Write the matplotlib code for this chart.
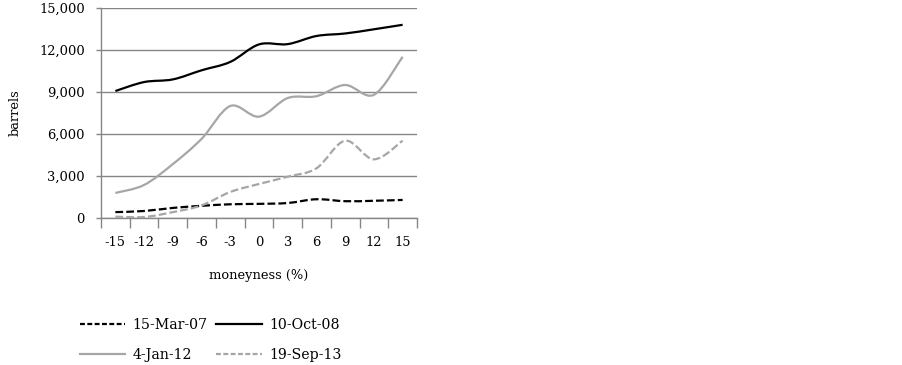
import numpy as np
import matplotlib
matplotlib.use("Agg")
import matplotlib.pyplot as plt
from matplotlib.path import Path
from matplotlib.patches import PathPatch
from matplotlib.lines import Line2D

moneyness = [-15, -12, -9, -6, -3, 0, 3, 6, 9, 12, 15]
mar07 = [420, 500, 720, 870, 980, 1010, 1070, 1340, 1200, 1230, 1290]
oct08 = [9070, 9710, 9900, 10550, 11150, 12400, 12420, 13000, 13180, 13480, 13800]
jan12 = [1790, 2360, 3850, 5650, 8000, 7240, 8570, 8700, 9500, 8800, 11520]
sep13 = [100, 70, 420, 900, 1860, 2430, 2950, 3550, 5520, 4190, 5520]

series = [
    ("15-Mar-07", mar07, "black", True),
    ("10-Oct-08", oct08, "black", False),
    ("4-Jan-12", jan12, "#a6a6a6", False),
    ("19-Sep-13", sep13, "#a6a6a6", True),
]
plot_dash = (0, (3.5, 1.4))
legend_dash = (0, (2.2, 1.1))

plt.rcParams['font.family'] = ['DejaVu Serif']
fs = 9.4

W, H = 903, 365
fig = plt.figure(figsize=(W / 100, H / 100), dpi=100)
ax = fig.add_axes([101 / W, 1 - 218 / H, (417 - 101) / W, (218 - 8) / H])


def smooth_path(x, y):
    # Catmull-Rom converted to cubic Bezier segments (Excel-style smoothing)
    pts = np.column_stack([x, y]).astype(float)
    n = len(pts)
    verts = [pts[0]]
    codes = [Path.MOVETO]
    for i in range(n - 1):
        p0 = pts[i - 1] if i > 0 else pts[i]
        p1 = pts[i]
        p2 = pts[i + 1]
        p3 = pts[i + 2] if i + 2 < n else pts[i + 1]
        c1 = p1 + (p2 - p0) / 6
        c2 = p2 - (p3 - p1) / 6
        verts += [c1, c2, p2]
        codes += [Path.CURVE4] * 3
    return Path(verts, codes)


xpos = np.arange(len(moneyness))
handles = {}
for label, vals, color, dashed in series:
    patch = PathPatch(smooth_path(xpos, vals), facecolor="none", edgecolor=color,
                      linewidth=1.6, linestyle=plot_dash if dashed else "-",
                      zorder=3, capstyle="butt")
    ax.add_patch(patch)
    handles[label] = Line2D([], [], color=color, linewidth=1.6,
                            linestyle=legend_dash if dashed else "-", label=label)

ax.set_xlim(-0.5, len(moneyness) - 0.5)
ax.set_ylim(0, 15000)
ax.set_yticks(np.arange(0, 15001, 3000))
ax.set_yticklabels([f"{v:,}" for v in range(0, 15001, 3000)], fontsize=fs)
ax.set_xticks(xpos)
ax.set_xticklabels([str(m) for m in moneyness], fontsize=fs)
ax.set_xticks(np.arange(-0.5, len(moneyness), 1), minor=True)
ax.tick_params(axis="x", which="major", length=0, pad=13)
ax.tick_params(axis="x", which="minor", length=7, width=1, color="#868686")
ax.tick_params(axis="y", length=3.6, width=1, color="#868686", pad=8)

ax.grid(axis="y", color="#868686", linewidth=1)
ax.set_axisbelow(True)
for s in ["top", "right"]:
    ax.spines[s].set_visible(False)
for s in ["left", "bottom"]:
    ax.spines[s].set_color("#868686")
    ax.spines[s].set_linewidth(1)

fig.text(259 / W, 1 - 276 / H, "moneyness (%)", fontsize=fs, ha="center", va="center")
fig.text(15 / W, 1 - 113 / H, "barrels", fontsize=fs, rotation=90, ha="center", va="center")

# row-wise order: matplotlib fills legend columns first
order = ["15-Mar-07", "4-Jan-12", "10-Oct-08", "19-Sep-13"]
fig.legend(handles=[handles[k] for k in order], ncol=2, loc="upper left",
           bbox_to_anchor=(80 / W, 1 - 318 / H), frameon=False,
           fontsize=10.2, handlelength=3.2, handletextpad=0.5,
           columnspacing=0.63, labelspacing=1.1, borderpad=0, borderaxespad=0)

fig.savefig("out.png", dpi=100)
